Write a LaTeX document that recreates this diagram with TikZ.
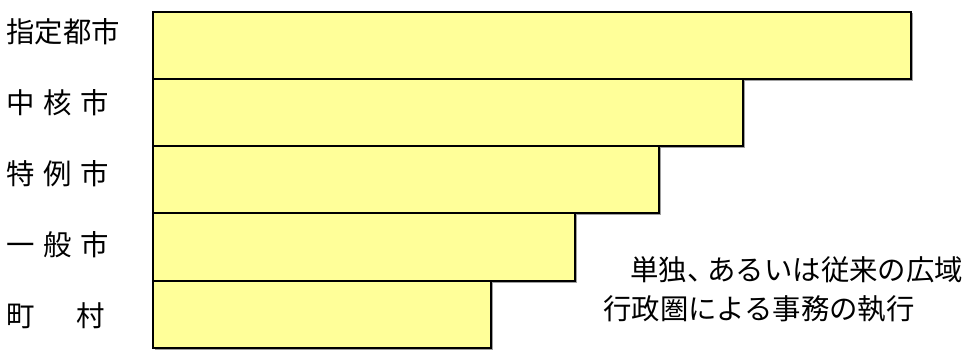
\documentclass[tikz,border=0pt]{standalone}
\usepackage{fontspec}
\newfontfamily\jp{Noto Sans CJK JP}
\definecolor{baryellow}{HTML}{FFFF99}
\definecolor{barshadow}{HTML}{A0A0A0}
\begin{document}
\begin{tikzpicture}[x=1pt,y=-1pt,
  barbox/.style={draw=black, line width=2pt, fill=baryellow, rectangle, anchor=north west, inner sep=0pt, outer sep=0pt},
  lab/.style={anchor=west, inner sep=0pt, font=\jp\fontsize{28.4pt}{34pt}\selectfont},
  note/.style={anchor=north west, inner sep=0pt, align=left, font=\jp\fontsize{28.4pt}{39pt}\selectfont}]
\useasboundingbox[fill=white] (0,0) rectangle (969,349);
% shadows
\foreach \t/\w/\h in {12/758/67, 79/590/67, 146/506/67, 213/422/68, 281/338/67}{
  \draw[barshadow, line width=1pt] (153.5+\w+1.2, \t+1.2) -- (153.5+\w+1.2, \t+\h+1.2) -- (153.5+1.2, \t+\h+1.2);
}
\node[barbox, minimum width=758pt, minimum height=67pt] (b1) at (152.5,12) {};
\node[barbox, minimum width=590pt, minimum height=67pt] (b2) at (152.5,79) {};
\node[barbox, minimum width=506pt, minimum height=67pt] (b3) at (152.5,146) {};
\node[barbox, minimum width=422pt, minimum height=68pt] (b4) at (152.5,213) {};
\node[barbox, minimum width=338pt, minimum height=67pt] (b5) at (152.5,281) {};
\node[lab] (l1) at (6,32) {指定都市};
\node[lab] (l2) at (6,103) {中\hspace{9pt}核\hspace{9pt}市};
\node[lab] (l3) at (6,174) {特\hspace{9pt}例\hspace{9pt}市};
\node[lab] (l4) at (6,245) {一\hspace{9pt}般\hspace{9pt}市};
\node[lab] (l5) at (6,316) {町\hspace{41.6pt}村};
\node[note] (n1) at (603,256) {\hspace*{27pt}単独\makebox[0.72em][l]{、}あるいは従来の広域\\行政圏による事務の執行};
\end{tikzpicture}
\end{document}
